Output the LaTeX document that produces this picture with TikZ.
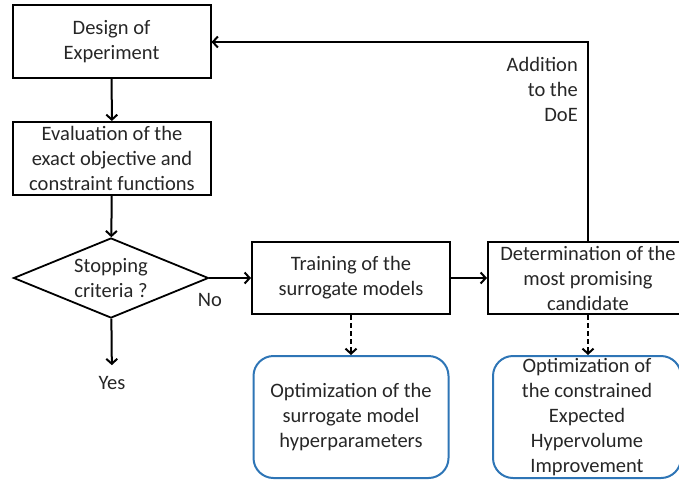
\documentclass[tikz,border=0pt]{standalone}
\usepackage{fontspec}
\setmainfont{Carlito}
\usetikzlibrary{shapes.geometric,arrows.meta}

\definecolor{optblue}{RGB}{46,117,182}

\tikzset{
	block/.style={draw, rectangle, line width=2pt, align=center, inner sep=1pt},
	decision/.style={draw, diamond, line width=1.8pt, align=center, inner sep=0pt, aspect=2.4},
	subopt/.style={draw=optblue, rectangle, rounded corners=20pt, line width=2pt, align=center, inner sep=1pt},
	flow/.style={line width=2pt, -{Straight Barb[length=5pt,width=11pt]}},
	subflow/.style={flow, dash pattern=on 5pt off 3pt},
}

\begin{document}
\begin{tikzpicture}[x=1pt, y=-1pt, font=\fontsize{20.5}{25}\selectfont, text=black!85]

\def \bw {198} % box width
\def \bh {73}  % box height

\useasboundingbox (0,0) rectangle (679,480);

\node[block, minimum width=\bw, minimum height=\bh] (doe) at (111.5,41.5) {Design of\\Experiment};
\node[block, minimum width=\bw, minimum height=\bh] (eval) at (112,158.5) {Evaluation of the\\exact objective and\\constraint functions};
\node[decision, minimum width=195, minimum height=80] (stop) at (111,278) {Stopping\\criteria ?};
\node[block, minimum width=\bw, minimum height=72] (train) at (351,278) {Training of the\\surrogate models};
\node[block, minimum width=200, minimum height=72] (best) at (588,278) {Determination of the\\most promising\\candidate};
\node[subopt, minimum width=195, minimum height=122] (hyper) at (351,417) {Optimization of the\\surrogate model\\hyperparameters};
\node[subopt, minimum width=188, minimum height=122] (ehvi) at (587,417) {Optimization of\\the constrained\\Expected\\Hypervolume\\Improvement};

\node[inner sep=11pt] (yes) at (112,383) {Yes};
\node (no) at (210,300) {No};
\node[align=right, anchor=east, inner sep=0pt] (add) at (578,89) {Addition\\to the\\DoE};

\coordinate (turn) at (588,42);

\draw[flow] (doe) -- (eval);
\draw[flow] (eval) -- (stop);
\draw[flow] (stop) -- (yes);
\draw[flow] (stop) -- (train);
\draw[flow] (train) -- (best);
\draw[flow] (best.north) -- (turn) -- (doe.east |- turn);

\draw[subflow] (train) -- (hyper);
\draw[subflow] (best.south) -- (best.south |- ehvi.north);
\end{tikzpicture}
\end{document}
